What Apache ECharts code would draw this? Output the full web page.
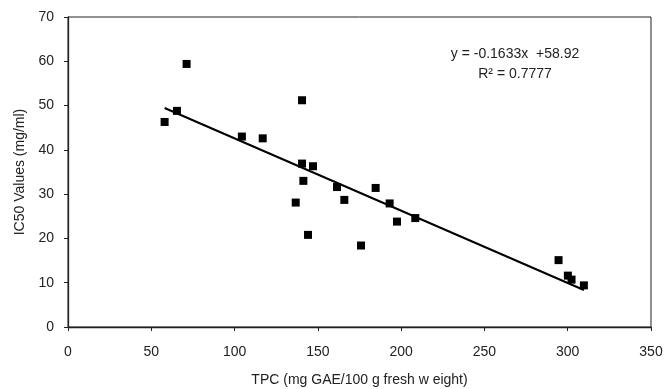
<!DOCTYPE html>
<html>
<head>
<meta charset="utf-8">
<script src="https://cdn.jsdelivr.net/npm/echarts@6/dist/echarts.min.js"></script>
<style>
html,body{margin:0;padding:0;background:#fff;}
#chart{width:664px;height:389px;}
</style>
</head>
<body>
<div id="chart"></div>
<script>
// TPC (x) values
var tpcValues = [58.0, 65.4, 71.2, 104.4, 116.9, 140.5, 140.5, 147.1, 141.3, 136.7, 144.1,
                 161.5, 165.9, 184.7, 193.1, 197.5, 208.5, 175.9, 294.5, 300.1, 302.3, 309.7];
// IC50 (y) values
var ic50Values = [46.3, 48.8, 59.4, 43.0, 42.6, 51.2, 36.9, 36.3, 33.0, 28.1, 20.8,
                  31.6, 28.7, 31.4, 27.9, 23.8, 24.6, 18.4, 15.1, 11.6, 10.7, 9.4];
// Linear trend line (as printed on the chart)
var trendSlope = -0.1633;
var trendIntercept = 58.92;
var trendXRange = [58.0, 309.7];
var equationText = 'y = -0.1633x  +58.92';
var r2Text = 'R\u00B2 = 0.7777';
var xTicks = [0, 50, 100, 150, 200, 250, 300, 350];
var yTicks = [0, 10, 20, 30, 40, 50, 60, 70];
var xTitle = 'TPC (mg GAE/100 g fresh w eight)';
var yTitle = 'IC50 Values (mg/ml)';

var points = tpcValues.map(function (x, i) { return [x, ic50Values[i]]; });
var trendPoints = trendXRange.map(function (x) { return [x, trendSlope * x + trendIntercept]; });

var chart = echarts.init(document.getElementById('chart'));
var font = 'Arial, "Liberation Sans", sans-serif';
chart.setOption({
  animation: false,
  backgroundColor: '#fff',
  title: {
    text: equationText + '\n' + r2Text,
    left: 510, top: 39,
    textAlign: 'center',
    textStyle: { fontFamily: font, fontSize: 14, fontWeight: 'normal', color: '#222', lineHeight: 20, align: 'center' }
  },
  grid: {
    left: 68, right: 13, top: 17, bottom: 62,
    containLabel: false,
    outerBoundsMode: 'none',
    show: true, borderColor: '#222', borderWidth: 1, backgroundColor: 'transparent'
  },
  xAxis: {
    type: 'value', min: xTicks[0], max: xTicks[xTicks.length - 1], interval: 50,
    name: xTitle, nameLocation: 'middle', nameGap: 46,
    nameTextStyle: { fontFamily: font, fontSize: 14, color: '#222' },
    axisLine: { show: true, lineStyle: { color: '#222', width: 1.3 } },
    axisTick: { show: true, length: 4, lineStyle: { color: '#222' } },
    axisLabel: { fontFamily: font, fontSize: 14, color: '#222', margin: 18 },
    splitLine: { show: false }
  },
  yAxis: {
    type: 'value', min: yTicks[0], max: yTicks[yTicks.length - 1], interval: 10,
    name: yTitle, nameLocation: 'middle', nameGap: 40, nameRotate: 90,
    nameTextStyle: { fontFamily: font, fontSize: 14, color: '#222' },
    axisLine: { show: true, lineStyle: { color: '#222', width: 1.3 } },
    axisTick: { show: true, length: 4, lineStyle: { color: '#222' } },
    axisLabel: { fontFamily: font, fontSize: 14, color: '#222', margin: 14 },
    splitLine: { show: false }
  },
  series: [
    {
      type: 'line',
      data: trendPoints,
      symbol: 'none',
      lineStyle: { color: '#000', width: 2 },
      z: 2
    },
    {
      type: 'scatter',
      data: points,
      symbol: 'rect',
      symbolSize: 8,
      itemStyle: { color: '#000', opacity: 1 },
      z: 3
    }
  ]
});
</script>
</body>
</html>
